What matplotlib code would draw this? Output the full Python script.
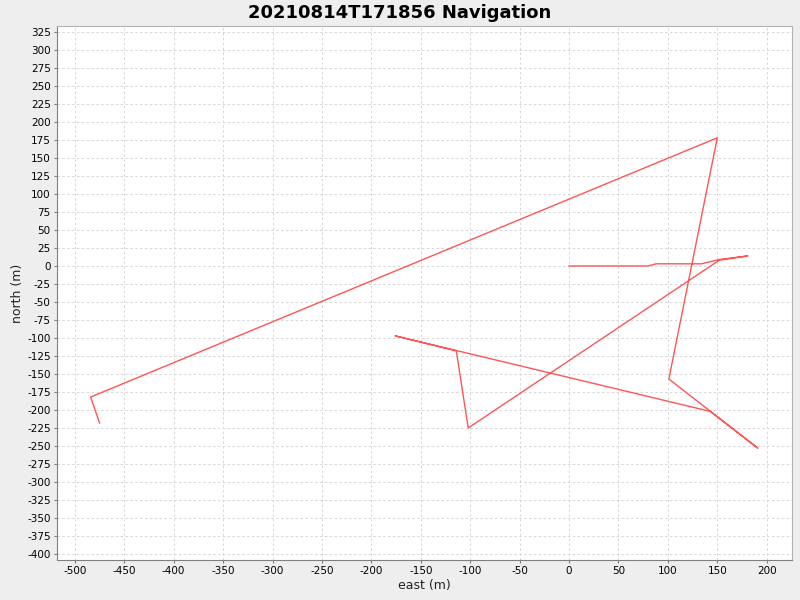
import numpy as np
import matplotlib
matplotlib.use('Agg')
import matplotlib.pyplot as plt
from matplotlib.ticker import MultipleLocator

plt.rcParams['axes.unicode_minus'] = False

title = '20210814T171856 Navigation'

# track points (metres)
east = [0, 80, 88, 134, 152, 181, 152, -102, -114, -176, 143, 191, 101, 150, -484, -475]
north = [0, 0, 3, 3, 9, 14, 8, -225, -118, -97, -202, -253, -157, 178, -182, -218]

fig = plt.figure(figsize=(8, 6), dpi=100, facecolor='#eeeeee')
ax = fig.add_axes([0.0713, 0.0667, 0.9187, 0.89])
ax.set_facecolor('white')

ax.plot(east, north, color='#ff5555', lw=1)

ax.set_xlim(-518, 225.6)
ax.set_ylim(-408.3, 333.3)
ax.xaxis.set_major_locator(MultipleLocator(50))
ax.yaxis.set_major_locator(MultipleLocator(25))
ax.grid(True, color='#d6d6d6', ls=(0, (2.5, 2.5)), lw=0.7)
ax.set_axisbelow(True)

for s in ['top', 'right']:
    ax.spines[s].set_color('#b4b4b4')
for s in ['left', 'bottom']:
    ax.spines[s].set_color('#808080')
ax.tick_params(colors='#808080', labelcolor='black', labelsize=7.5, length=2.5, pad=2)

ax.set_xlabel('east (m)', fontsize=9, color='#222222')
ax.set_ylabel('north (m)', fontsize=9, color='#222222')
ax.xaxis.set_label_coords(0.5, -0.036)
ax.yaxis.set_label_coords(-0.045, 0.5)
fig.text(0.5, 0.978, title, ha='center', va='center', fontsize=13, fontweight='bold')

fig.savefig('out.png', dpi=100, facecolor=fig.get_facecolor())
